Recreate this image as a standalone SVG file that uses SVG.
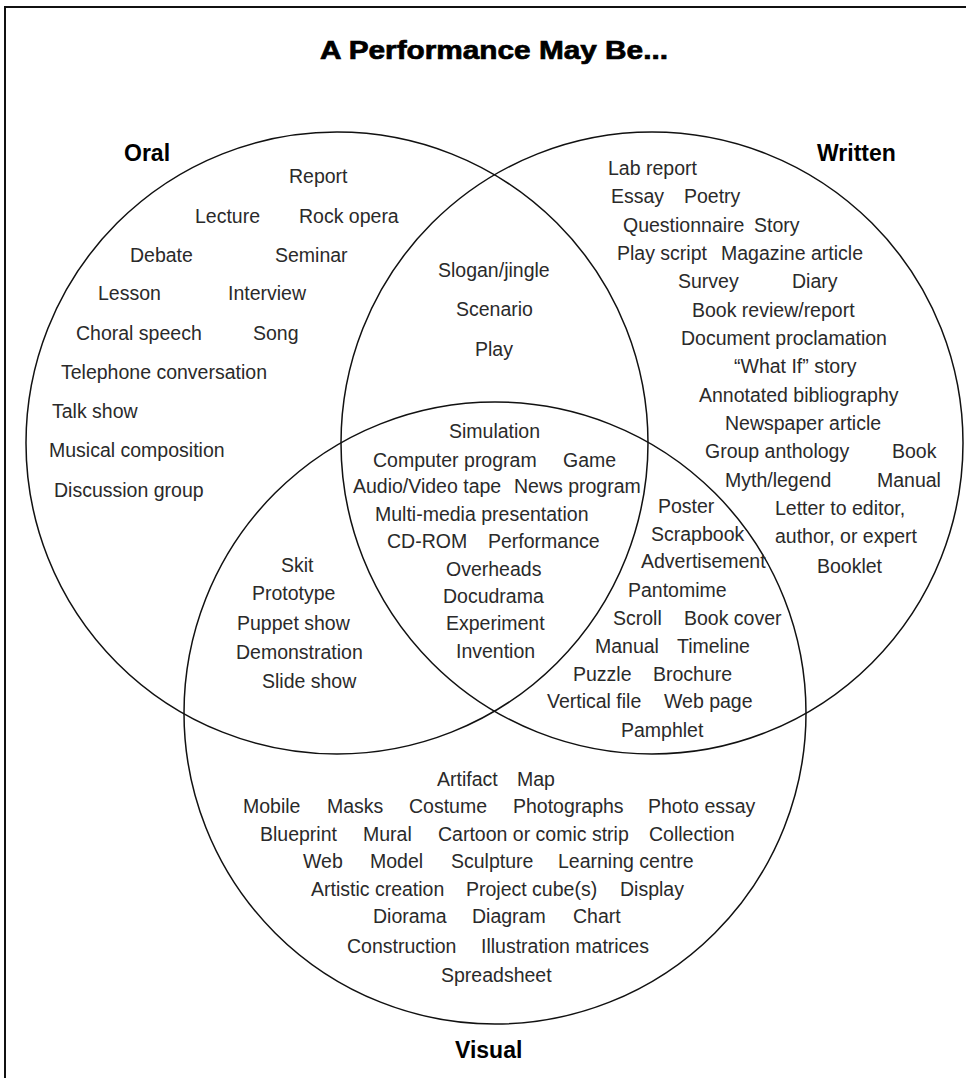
<svg xmlns="http://www.w3.org/2000/svg" width="966" height="1078" viewBox="0 0 966 1078">
<style>
.c{fill:none;stroke:#111;stroke-width:1.5}
.t{font-family:"Liberation Sans",Arial,Helvetica,sans-serif;font-size:19.5px;fill:#2a2a2a}
.h{font-family:"Liberation Sans",Arial,Helvetica,sans-serif;font-size:23px;font-weight:bold;fill:#000}
</style>
<rect width="966" height="1078" fill="#fff"/>
<path d="M5,1078 V7 H966" fill="none" stroke="#111" stroke-width="2"/>
<text id="title" x="320" y="59" font-family="Liberation Sans,Arial,sans-serif" font-size="25" font-weight="bold" stroke="#000" stroke-width="0.7" textLength="348" lengthAdjust="spacingAndGlyphs">A Performance May Be...</text>

<g id="oral">
<circle class="c" cx="337" cy="443" r="311"/>
<text class="h" x="124" y="161">Oral</text>
</g>
<g id="written">
<circle class="c" cx="652" cy="443" r="311"/>
<text class="h" x="817" y="161">Written</text>
</g>
<g id="visual">
<circle class="c" cx="495" cy="713" r="311"/>
<text class="h" x="455" y="1058">Visual</text>
</g>

<g id="oral-only" class="t">
<text x="289" y="183">Report</text>
<text x="195" y="223">Lecture</text>
<text x="299" y="223">Rock opera</text>
<text x="130" y="262">Debate</text>
<text x="275" y="262">Seminar</text>
<text x="98" y="300">Lesson</text>
<text x="228" y="300">Interview</text>
<text x="76" y="340">Choral speech</text>
<text x="253" y="340">Song</text>
<text x="61" y="379">Telephone conversation</text>
<text x="52" y="418">Talk show</text>
<text x="49" y="457">Musical composition</text>
<text x="54" y="497">Discussion group</text>
</g>

<g id="oral-written" class="t">
<text x="438" y="277">Slogan/jingle</text>
<text x="456" y="316">Scenario</text>
<text x="475" y="356">Play</text>
</g>

<g id="written-only" class="t">
<text x="608" y="175">Lab report</text>
<text x="611" y="203">Essay</text>
<text x="684" y="203">Poetry</text>
<text x="623" y="232">Questionnaire</text>
<text x="754" y="232">Story</text>
<text x="617" y="260">Play script</text>
<text x="721" y="260">Magazine article</text>
<text x="678" y="288">Survey</text>
<text x="792" y="288">Diary</text>
<text x="692" y="317">Book review/report</text>
<text x="681" y="345">Document proclamation</text>
<text x="734" y="373">“What If” story</text>
<text x="699" y="402">Annotated bibliography</text>
<text x="725" y="430">Newspaper article</text>
<text x="705" y="458">Group anthology</text>
<text x="892" y="458">Book</text>
<text x="725" y="487">Myth/legend</text>
<text x="877" y="487">Manual</text>
<text x="775" y="515">Letter to editor,</text>
<text x="775" y="543">author, or expert</text>
<text x="817" y="573">Booklet</text>
</g>

<g id="all-three" class="t">
<text x="449" y="438">Simulation</text>
<text x="373" y="467">Computer program</text>
<text x="563" y="467">Game</text>
<text x="353" y="493">Audio/Video tape</text>
<text x="514" y="493">News program</text>
<text x="375" y="521">Multi-media presentation</text>
<text x="387" y="548">CD-ROM</text>
<text x="488" y="548">Performance</text>
<text x="446" y="576">Overheads</text>
<text x="443" y="603">Docudrama</text>
<text x="446" y="630">Experiment</text>
<text x="456" y="658">Invention</text>
</g>

<g id="oral-visual" class="t">
<text x="281" y="572">Skit</text>
<text x="252" y="600">Prototype</text>
<text x="237" y="630">Puppet show</text>
<text x="236" y="659">Demonstration</text>
<text x="262" y="688">Slide show</text>
</g>

<g id="written-visual" class="t">
<text x="658" y="513">Poster</text>
<text x="651" y="541">Scrapbook</text>
<text x="641" y="568">Advertisement</text>
<text x="628" y="597">Pantomime</text>
<text x="613" y="625">Scroll</text>
<text x="684" y="625">Book cover</text>
<text x="595" y="653">Manual</text>
<text x="677" y="653">Timeline</text>
<text x="573" y="681">Puzzle</text>
<text x="653" y="681">Brochure</text>
<text x="547" y="708">Vertical file</text>
<text x="664" y="708">Web page</text>
<text x="621" y="737">Pamphlet</text>
</g>

<g id="visual-only" class="t">
<text x="437" y="786">Artifact</text>
<text x="517" y="786">Map</text>
<text x="243" y="813">Mobile</text>
<text x="327" y="813">Masks</text>
<text x="409" y="813">Costume</text>
<text x="513" y="813">Photographs</text>
<text x="648" y="813">Photo essay</text>
<text x="260" y="841">Blueprint</text>
<text x="363" y="841">Mural</text>
<text x="438" y="841">Cartoon or comic strip</text>
<text x="649" y="841">Collection</text>
<text x="303" y="868">Web</text>
<text x="370" y="868">Model</text>
<text x="451" y="868">Sculpture</text>
<text x="558" y="868">Learning centre</text>
<text x="311" y="896">Artistic creation</text>
<text x="466" y="896">Project cube(s)</text>
<text x="620" y="896">Display</text>
<text x="373" y="923">Diorama</text>
<text x="472" y="923">Diagram</text>
<text x="573" y="923">Chart</text>
<text x="347" y="953">Construction</text>
<text x="481" y="953">Illustration matrices</text>
<text x="441" y="982">Spreadsheet</text>
</g>
</svg>
